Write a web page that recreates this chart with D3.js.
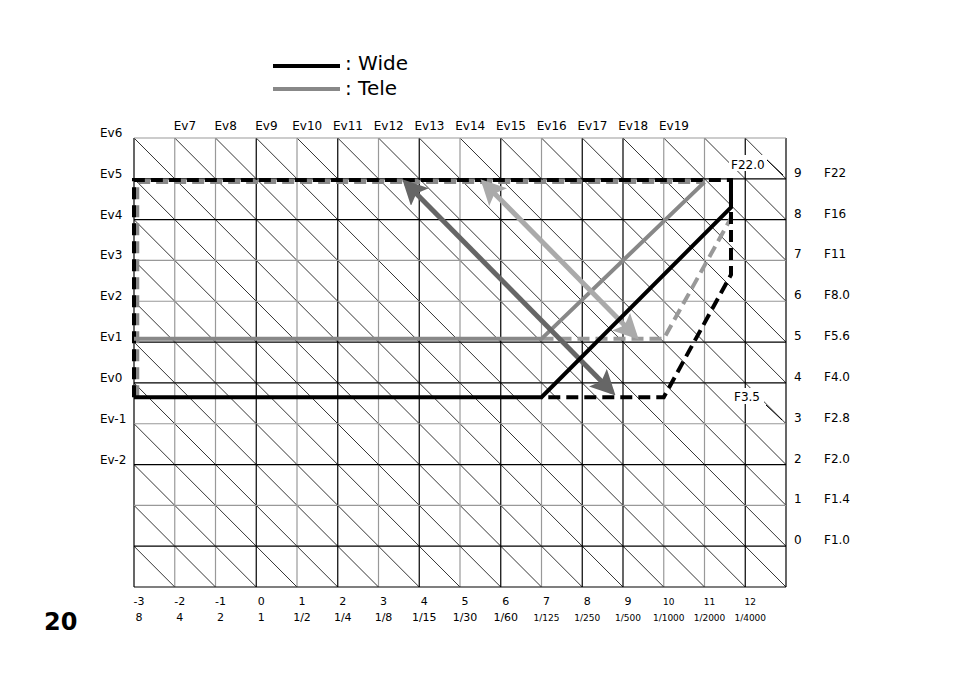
<!DOCTYPE html>
<html><head><meta charset="utf-8">
<script src="https://cdn.jsdelivr.net/npm/d3@7"></script>
<style>body{margin:0;background:#fff}text{font-family:"DejaVu Sans",Arial,sans-serif}</style>
</head><body>
<svg id="c" width="954" height="673"></svg>
<script>
const topEv = ['Ev7','Ev8','Ev9','Ev10','Ev11','Ev12','Ev13','Ev14','Ev15','Ev16','Ev17','Ev18','Ev19']
const leftEv = ['Ev6','Ev5','Ev4','Ev3','Ev2','Ev1','Ev0','Ev-1','Ev-2']
const tvSteps = [-3,-2,-1,0,1,2,3,4,5,6,7,8,9,10,11,12]
const shutter = ['8','4','2','1','1/2','1/4','1/8','1/15','1/30','1/60','1/125','1/250','1/500','1/1000','1/2000','1/4000']
const avSteps = [9,8,7,6,5,4,3,2,1,0]
const fNums = ['F22','F16','F11','F8.0','F5.6','F4.0','F2.8','F2.0','F1.4','F1.0']

const wideSolid = [[-3,3.65],[7,3.65],[11.65,8.3],[11.65,8.97]]
const wideDashed = [[-3,3.65],[-3,8.97],[11.65,8.97],[11.65,6.65],[10,3.65],[7,3.65]]
const teleSolid = [[-3,5.08],[7,5.08],[11,8.92]]
const teleDashedA = [[-2.92,3.65],[-2.92,8.92],[11,8.92]]
const teleDashedB = [[7,5.08],[10,5.08],[11.65,8.04]]
const arrows = [
  {from:[3.67,8.9], to:[8.73,3.78], color:'#666'},
  {from:[5.59,8.9], to:[9.3,5.15], color:'#aaa'}
]
const blackV = [-3,0,2,4,6,8,9,12,13]
const blackH = [9,8,5,4,2,0,-1]

const svg = d3.select('#c')
const x = d3.scaleLinear().domain([-3,13]).range([134,786])
const y = d3.scaleLinear().domain([-1,10]).range([587,138])

svg.append('clipPath').attr('id','clip').append('rect')
  .attr('x',x(-3)).attr('y',y(10)).attr('width',x(13)-x(-3)).attr('height',y(-1)-y(10))

const grid = svg.append('g').attr('clip-path','url(#clip)')
for (let k = -14; k < 16; k++) {
  grid.append('line').attr('x1',x(k)).attr('y1',y(10)).attr('x2',x(k+11)).attr('y2',y(-1))
    .attr('stroke','#000').attr('stroke-width',0.8)
}
d3.range(-3,14).forEach(u => {
  svg.append('line').attr('x1',x(u)).attr('x2',x(u)).attr('y1',y(10)).attr('y2',y(-1))
    .attr('stroke', blackV.includes(u) ? '#000' : '#999').attr('stroke-width',1.2)
})
d3.range(-1,11).forEach(a => {
  svg.append('line').attr('y1',y(a)).attr('y2',y(a)).attr('x1',x(-3)).attr('x2',x(13))
    .attr('stroke', blackH.includes(a) ? '#000' : '#999').attr('stroke-width',1.2)
})

const line = d3.line().x(d => x(d[0])).y(d => y(d[1]))
const path = (pts, color, dash) => svg.append('path').attr('d',line(pts)).attr('fill','none')
  .attr('stroke',color).attr('stroke-width',4).attr('stroke-dasharray',dash || null)

path(teleDashedA,'#888','12,6')
path(teleDashedB,'#999','12,6')
path(wideDashed,'#000','12,6')
path(teleSolid,'#888')

const defs = svg.append('defs')
arrows.forEach((a,i) => {
  ['e','s'].forEach(t => {
    defs.append('marker').attr('id','m'+t+i).attr('viewBox','0 0 10 10').attr('refX',8).attr('refY',5)
      .attr('markerWidth',5).attr('markerHeight',5).attr('orient','auto-start-reverse')
      .append('path').attr('d','M0,0L10,5L0,10L2,5Z').attr('fill',a.color)
  })
  svg.append('line').attr('x1',x(a.from[0])).attr('y1',y(a.from[1])).attr('x2',x(a.to[0])).attr('y2',y(a.to[1]))
    .attr('stroke',a.color).attr('stroke-width',5)
    .attr('marker-start','url(#ms'+i+')').attr('marker-end','url(#me'+i+')')
})
path(wideSolid,'#000')

// labels
svg.selectAll('.top').data(topEv).join('text').attr('x',(d,i) => x(-1.75+i)).attr('y',130)
  .attr('text-anchor','middle').attr('font-size',12).text(d => d)
svg.selectAll('.left').data(leftEv).join('text').attr('x',100).attr('y',(d,i) => y(10-i)-1)
  .attr('font-size',12).text(d => d)
svg.selectAll('.av').data(avSteps).join('text').attr('x',794).attr('y',d => y(d)-2)
  .attr('font-size',12).text(d => d)
svg.selectAll('.fn').data(fNums).join('text').attr('x',824).attr('y',(d,i) => y(avSteps[i])-2)
  .attr('font-size',12).text(d => d)
svg.selectAll('.tv').data(tvSteps).join('text').attr('x',d => x(d)+5).attr('y',605)
  .attr('text-anchor','middle').attr('font-size',d => d >= 10 ? 9 : 11).text(d => d)
svg.selectAll('.sh').data(shutter).join('text').attr('x',(d,i) => x(tvSteps[i])+5).attr('y',621)
  .attr('text-anchor','middle').attr('font-size',(d,i) => i >= 10 ? 9 : 11).text(d => d)

svg.append('rect').attr('x',729).attr('y',155).attr('width',38).attr('height',16).attr('fill','#fff')
svg.append('text').attr('x',731).attr('y',169).attr('font-size',12).text('F22.0')
svg.append('line').attr('x1',767).attr('y1',160).attr('x2',783).attr('y2',175).attr('stroke','#000')
svg.append('rect').attr('x',732).attr('y',388).attr('width',32).attr('height',16).attr('fill','#fff')
svg.append('text').attr('x',734).attr('y',401).attr('font-size',12).text('F3.5')
svg.append('line').attr('x1',766).attr('y1',405).attr('x2',782).attr('y2',420).attr('stroke','#000')

// legend
svg.append('line').attr('x1',273).attr('x2',340).attr('y1',66).attr('y2',66).attr('stroke','#000').attr('stroke-width',4)
svg.append('line').attr('x1',273).attr('x2',340).attr('y1',89).attr('y2',89).attr('stroke','#888').attr('stroke-width',4)
svg.append('text').attr('x',345).attr('y',70).attr('font-size',20).attr('font-family','Open Sans').text(': Wide')
svg.append('text').attr('x',345).attr('y',95).attr('font-size',20).attr('font-family','Open Sans').text(': Tele')
svg.append('text').attr('x',44).attr('y',630).attr('font-size',24).attr('font-weight','bold')
  .attr('font-family','Liberation Sans Narrow, Roboto Condensed, sans-serif').text('20')
</script>
</body></html>
